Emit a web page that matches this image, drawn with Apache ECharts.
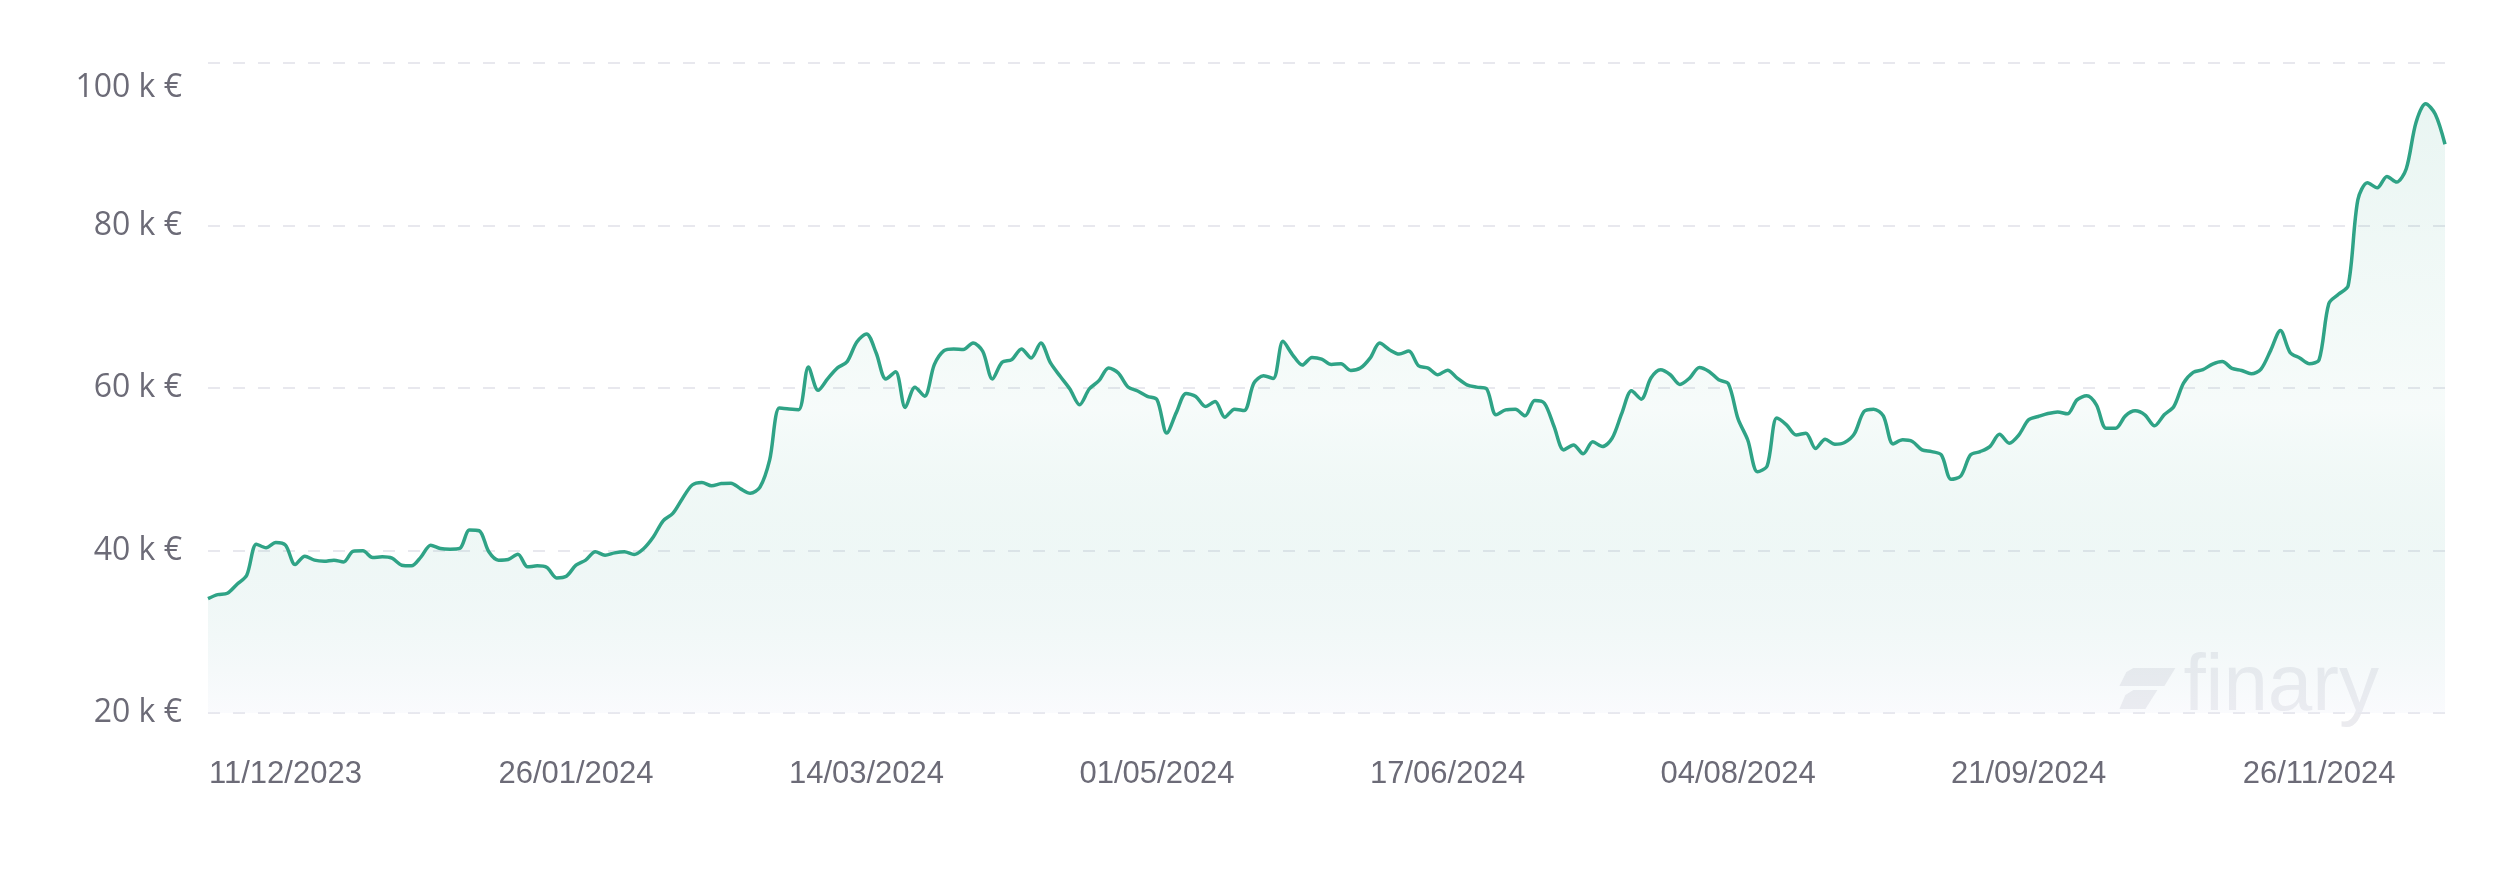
<!DOCTYPE html>
<html>
<head>
<meta charset="utf-8">
<script src="https://cdn.jsdelivr.net/npm/echarts@6/dist/echarts.min.js"></script>
<style>
html, body { margin: 0; padding: 0; background: #ffffff; }
#chart { width: 2510px; height: 870px; }
</style>
</head>
<body>
<div id="chart"></div>
<script>
// Portfolio value, thousands of euros (one value per data point)
const values = [
  34.08, 34.57, 34.74, 35.85, 36.96, 40.78, 40.33, 40.99, 40.66, 38.27,
  39.30, 38.81, 38.68, 38.81, 38.60, 39.92, 39.96, 39.14, 39.22, 39.05,
  38.19, 38.11, 39.22, 40.66, 40.25, 40.16, 40.25, 42.51, 42.43, 39.84,
  38.81, 38.89, 39.55, 37.99, 38.11, 37.90, 36.63, 36.84, 38.19, 38.81,
  39.84, 39.42, 39.71, 39.84, 39.51, 40.25, 41.69, 43.66, 44.56, 46.41,
  48.06,
  48.37, 47.96, 48.24, 48.29, 47.59, 47.05, 47.79, 51.16, 57.53, 57.41,
  57.33, 62.60, 59.71, 61.15, 62.47, 63.25, 65.67, 66.66, 64.30, 61.10,
  62.00, 57.60, 60.10, 59.00, 62.88, 64.60, 64.81, 64.73, 65.55, 64.52,
  61.11, 63.16, 63.49, 64.81, 63.70, 65.55, 63.08, 61.44, 59.88, 57.94,
  59.88, 60.90, 62.47, 61.85, 60.12, 59.63, 58.97, 58.56, 54.45, 57.00,
  59.33, 58.96, 57.72, 58.34, 56.41, 57.40, 57.23, 60.60, 61.50, 61.18,
  65.74, 64.09, 62.82, 63.76, 63.56, 62.90, 62.98, 62.16, 62.45, 63.68,
  65.53, 64.71, 64.18, 64.55, 62.74, 62.45, 61.63, 62.20, 61.22, 60.39,
  60.11, 59.94, 56.70, 57.31, 57.40, 56.57, 58.46, 58.13, 55.26, 52.38,
  52.99, 51.90, 53.37, 52.79, 53.82, 56.90, 59.65, 58.63, 61.22, 62.24,
  61.63, 60.44, 61.22, 62.53, 62.04, 61.01, 60.52, 56.20, 53.60, 49.70,
  50.40, 56.30, 55.47, 54.23, 54.44, 52.55, 53.70, 53.08, 53.29, 54.35,
  57.11, 57.39, 56.57, 53.12, 53.62, 53.41, 52.38, 52.17, 51.76, 48.76,
  49.17, 51.76, 52.17, 52.79, 54.31, 53.21, 54.23, 56.08, 56.49, 56.86,
  57.06, 56.82, 58.54, 59.04, 57.93, 55.05, 55.05, 56.57, 57.19,
  56.70, 55.34, 56.70, 57.72, 60.60, 61.92, 62.25, 62.95, 63.27, 62.41,
  62.16, 61.75, 62.33, 64.63, 67.09, 64.38, 63.69, 62.99, 63.48, 70.38,
  71.53, 72.60, 83.16, 85.26, 84.64, 86.04, 85.34, 86.99, 92.66, 95.00,
  93.69, 90.00
];

// Dates shown under the x axis
const tickLabels = ['11/12/2023', '26/01/2024', '14/03/2024', '01/05/2024',
                    '17/06/2024', '04/08/2024', '21/09/2024', '26/11/2024'];
const firstTick = 8;
const tickStep = 30;

// Value axis ticks (k €)
const yMin = 20, yMax = 100, yStep = 20;

const isTick = i => i >= firstTick && (i - firstTick) % tickStep === 0 &&
                    (i - firstTick) / tickStep < tickLabels.length;
const categories = values.map((v, i) => isTick(i) ? tickLabels[(i - firstTick) / tickStep] : 'pt ' + i);

const labelColor = '#6c6b77';
const wmColor = '#ebebef';

const chart = echarts.init(document.getElementById('chart'), null, { renderer: 'canvas' });

chart.setOption({
  backgroundColor: '#ffffff',
  animation: false,
  grid: { left: 208, right: 65, top: 63, bottom: 157, containLabel: false },
  xAxis: {
    type: 'category',
    data: categories,
    boundaryGap: false,
    axisLine: { show: false },
    axisTick: { show: false },
    splitLine: { show: false },
    axisLabel: {
      interval: (i) => isTick(i),
      margin: 46,
      color: labelColor,
      fontFamily: 'Liberation Sans, Arial, sans-serif',
      fontSize: 31
    }
  },
  yAxis: {
    type: 'value',
    min: yMin,
    max: yMax,
    interval: yStep,
    axisLine: { show: false },
    axisTick: { show: false },
    splitLine: {
      show: true,
      lineStyle: { color: '#e8e8ee', width: 2, type: [12, 13] }
    },
    axisLabel: {
      margin: 26,
      color: labelColor,
      fontFamily: 'Open Sans, sans-serif',
      fontSize: 32,
      formatter: (v) => v === yMax ? '{top|' + v + ' k €}' : v + ' k €',
      rich: {
        top: {
          color: labelColor,
          fontFamily: 'Open Sans, sans-serif',
          fontSize: 32,
          padding: [50, 0, 0, 0]
        }
      }
    }
  },
  graphic: [
    {
      type: 'group',
      right: 131,
      top: 648,
      silent: true,
      z: 0,
      children: [
        {
          type: 'polygon',
          shape: { points: [[2, 38], [9, 24], [16, 20], [58, 20], [47, 38]] },
          style: { fill: wmColor }
        },
        {
          type: 'polygon',
          shape: { points: [[2, 61], [8, 47], [16, 42], [40, 42], [28, 61]] },
          style: { fill: wmColor }
        },
        {
          type: 'text',
          x: 66,
          y: 0,
          style: {
            text: 'finary',
            fill: wmColor,
            font: '80px "Liberation Sans", Arial, sans-serif',
            verticalAlign: 'top'
          }
        }
      ]
    }
  ],
  series: [
    {
      type: 'line',
      data: values,
      smooth: 0.3,
      showSymbol: false,
      z: 3,
      lineStyle: { color: '#2fa386', width: 3.5 },
      areaStyle: {
        color: new echarts.graphic.LinearGradient(0, 0, 0, 1, [
          { offset: 0, color: 'rgba(47,163,134,0.15)' },
          { offset: 0.5, color: 'rgba(47,163,134,0.06)' },
          { offset: 1, color: 'rgba(235,238,248,0.35)' }
        ])
      }
    }
  ]
});
</script>
</body>
</html>
